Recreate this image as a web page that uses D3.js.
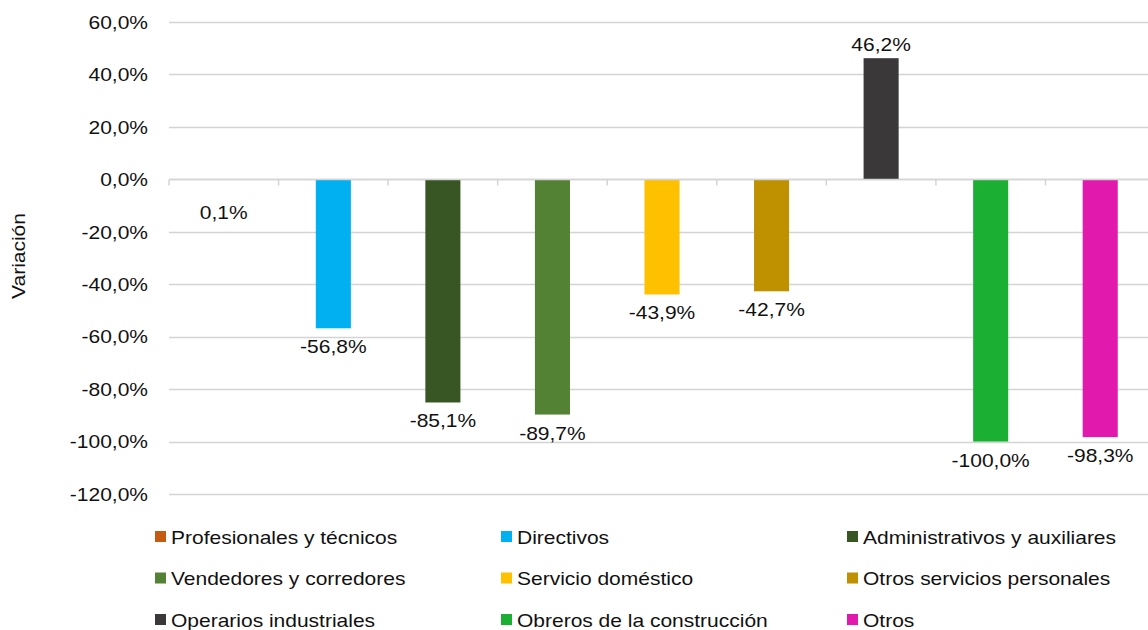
<!DOCTYPE html>
<html><head><meta charset="utf-8">
<script src="https://d3js.org/d3.v7.min.js"></script>
<style>body{margin:0;background:#fff}svg{display:block;font-family:"Liberation Sans",Arial,sans-serif}</style>
</head><body><svg id="c" width="1148" height="630"></svg>
<script>
const categories = ["Profesionales y técnicos","Directivos","Administrativos y auxiliares","Vendedores y corredores","Servicio doméstico","Otros servicios personales","Operarios industriales","Obreros de la construcción","Otros"];
const values = [0.1,-56.8,-85.1,-89.7,-43.9,-42.7,46.2,-100.0,-98.3];
const colors = ["#C55A11","#00B0F0","#375623","#548235","#FFC000","#BF9000","#3A3838","#1BAF34","#E219AD"];
const yTicks = [60,40,20,0,-20,-40,-60,-80,-100,-120];
const yTitle = "Variación";

const svg = d3.select("#c");
const FS = 17.5, SX = 1.2, TXT = "#111";
const fmt = v => d3.format(".1f")(v).replace("−","-").replace(".", ",") + "%";
const y = d3.scaleLinear().domain([-120,60]).range([494,22]);
const x = d3.scaleBand().domain(categories).range([169,1155]).paddingInner(0.68).paddingOuter(0.34);
const xb = d3.scaleBand().domain(categories).range([169,1155]);

function label(sel, anchor, size){
  // sel: selection of g positioned at anchor point
  return sel.append("text").attr("transform",`scale(${SX},1)`).attr("text-anchor",anchor)
    .attr("font-size",size||FS).attr("fill",TXT);
}

// gridlines
svg.append("g").selectAll("line").data(yTicks).join("line")
  .attr("x1",169).attr("x2",1148).attr("y1",d=>Math.round(y(d))+0.5).attr("y2",d=>Math.round(y(d))+0.5)
  .attr("stroke","#d4d4d4").attr("stroke-width",1.5);

// y axis labels (positions from axis scale)
const ya = svg.append("g").attr("transform","translate(148,0)")
  .call(d3.axisLeft(y).tickValues(yTicks).tickSize(0).tickPadding(0).tickFormat(""));
ya.select(".domain").remove();
ya.selectAll(".tick").each(function(d){
  label(d3.select(this),"end").attr("dy","0.36em").text(fmt(d));
});

// bars
svg.append("g").selectAll("rect").data(values).join("rect")
  .attr("x",(d,i)=>x(categories[i])).attr("width",x.bandwidth())
  .attr("y",d=>y(Math.max(0,d))).attr("height",d=>Math.abs(y(d)-y(0)))
  .attr("fill",(d,i)=>colors[i]);

// zero axis with category ticks
const xa = svg.append("g").attr("transform",`translate(0,${Math.round(y(0))+0.5})`);
xa.append("line").attr("x1",169).attr("x2",1148).attr("stroke","#d4d4d4").attr("stroke-width",1.5);
xa.selectAll("line.t").data(categories).join("line").attr("class","t")
  .attr("x1",d=>xb(d)).attr("x2",d=>xb(d)).attr("y1",0).attr("y2",6)
  .attr("stroke","#d4d4d4").attr("stroke-width",1.5);

// data labels
const dl = svg.append("g").selectAll("g").data(values).join("g")
  .attr("transform",(d,i)=>{
    const cx = x(categories[i])+x.bandwidth()/2;
    const cy = d>=1 ? y(d)-7 : (Math.abs(d)<1 ? y(0)+40 : y(d)+25);
    return `translate(${cx},${cy})`;
  });
dl.each(function(d){ label(d3.select(this),"middle").text(fmt(d)); });

// y title
const yt = svg.append("g").attr("transform","translate(25,256) rotate(-90)");
label(yt,"middle").text(yTitle);

// legend
const lg = svg.append("g").selectAll("g").data(categories).join("g")
  .attr("transform",(d,i)=>`translate(${155+(i%3)*346},${537+Math.floor(i/3)*41.5})`);
lg.append("rect").attr("x",0).attr("y",-6).attr("width",11).attr("height",11).attr("fill",(d,i)=>colors[i]);
lg.each(function(d){
  const g = d3.select(this).append("g").attr("transform","translate(16,6.5)");
  label(g,"start").text(d);
});
</script></body></html>
